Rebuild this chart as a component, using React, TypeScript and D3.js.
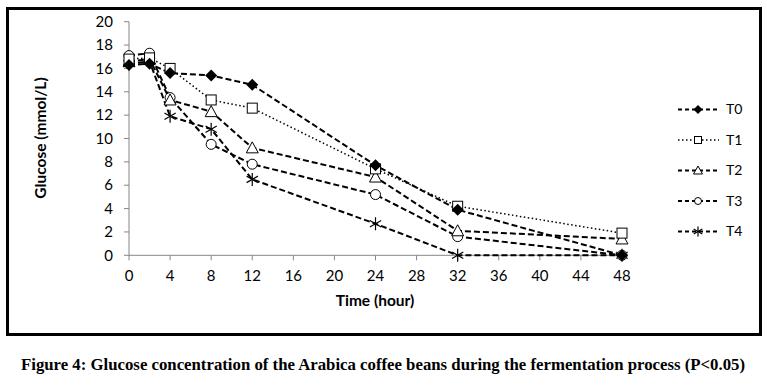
import React from 'react';
import * as d3 from 'd3';

const hours = [0, 2, 4, 8, 12, 24, 32, 48];
const seriesNames = ['T0', 'T1', 'T2', 'T3', 'T4'];
const t0 = [16.3, 16.4, 15.6, 15.4, 14.6, 7.7, 3.9, 0];
const t1 = [16.8, 16.9, 16.0, 13.3, 12.6, 7.4, 4.2, 1.9];
const t2 = [16.6, 16.8, 13.3, 12.3, 9.2, 6.7, 2.1, 1.4];
const t3 = [17.1, 17.3, 13.5, 9.5, 7.8, 5.2, 1.6, 0];
const t4 = [16.4, 16.6, 11.9, 10.8, 6.5, 2.7, 0, 0];
const xTicks = [0, 4, 8, 12, 16, 20, 24, 28, 32, 36, 40, 44, 48];
const yTicks = [0, 2, 4, 6, 8, 10, 12, 14, 16, 18, 20];

const allSeries = [t0, t1, t2, t3, t4];
const markerKinds = ['diamond', 'square', 'triangle', 'circle', 'asterisk'];

const W = 767;
const H = 387;
const plot = { left: 129, right: 622, top: 21.7, bottom: 255.3 };
const tickFont = 'Lato, "Open Sans", sans-serif';

function Marker({ kind, x, y, s }: { kind: string; x: number; y: number; s: number }) {
  const h = s / 2;
  if (kind === 'diamond') {
    return <path d={`M${x},${y - h - 1}L${x + h + 1},${y}L${x},${y + h + 1}L${x - h - 1},${y}Z`} fill="#000" />;
  }
  if (kind === 'square') {
    return <rect x={x - h} y={y - h} width={s} height={s} fill="#fff" stroke="#000" strokeWidth={1} />;
  }
  if (kind === 'triangle') {
    return <path d={`M${x},${y - h - 1}L${x + h + 1},${y + h}L${x - h - 1},${y + h}Z`} fill="#fff" stroke="#000" strokeWidth={1} />;
  }
  if (kind === 'circle') {
    return <circle cx={x} cy={y} r={h} fill="#fff" stroke="#000" strokeWidth={1} />;
  }
  const r = h + 1.5;
  const a = r * 0.866;
  return (
    <g stroke="#000" strokeWidth={1.2}>
      <line x1={x} y1={y - r} x2={x} y2={y + r} />
      <line x1={x - a} y1={y - r / 2} x2={x + a} y2={y + r / 2} />
      <line x1={x - a} y1={y + r / 2} x2={x + a} y2={y - r / 2} />
    </g>
  );
}

export default function App() {
  const x = d3.scaleLinear().domain([0, 48]).range([plot.left, plot.right]);
  const y = d3.scaleLinear().domain([0, 20]).range([plot.bottom, plot.top]);
  const line = d3
    .line<number>()
    .x((_, i) => x(hours[i]))
    .y(d => y(d));

  const legendY = d3.scalePoint<string>().domain(seriesNames).range([109.5, 231.5]);
  // later series first so T0 markers sit on top, as in the original
  const drawOrder = [4, 3, 2, 1, 0];

  return (
    <svg
      width={W}
      height={H}
      style={{ position: 'absolute', left: 0, top: 0, background: '#fff' }}
    >
      <rect x={0} y={0} width={W} height={H} fill="#fff" />
      <rect x={7.5} y={8.5} width={753} height={326} fill="none" stroke="#000" strokeWidth={3} />

      {/* axes */}
      <line x1={plot.left} y1={plot.top} x2={plot.left} y2={plot.bottom} stroke="#868686" />
      <line x1={plot.left} y1={plot.bottom} x2={plot.right} y2={plot.bottom} stroke="#868686" />
      {yTicks.map(t => (
        <g key={'y' + t}>
          <line x1={plot.left - 5} x2={plot.left} y1={y(t)} y2={y(t)} stroke="#868686" />
          <text x={113} y={y(t)} dy="0.35em" textAnchor="end" fontFamily={tickFont} fontSize={15}>
            {t}
          </text>
        </g>
      ))}
      {xTicks.map(t => (
        <g key={'x' + t}>
          <line x1={x(t)} x2={x(t)} y1={plot.bottom} y2={plot.bottom + 5} stroke="#868686" />
          <text x={x(t)} y={281} textAnchor="middle" fontFamily={tickFont} fontSize={15}>
            {t}
          </text>
        </g>
      ))}

      <text
        transform="translate(46,138) rotate(-90)"
        textAnchor="middle"
        fontFamily={tickFont}
        fontWeight="bold"
        fontSize={15.5}
      >
        Glucose (mmol/L)
      </text>
      <text x={375} y={306} textAnchor="middle" fontFamily={tickFont} fontWeight="bold" fontSize={15.5}>
        Time (hour)
      </text>

      {/* series */}
      {drawOrder.map(si => (
        <path
          key={'l' + si}
          d={line(allSeries[si]) || ''}
          fill="none"
          stroke="#000"
          strokeWidth={si === 1 ? 1.5 : 2}
          strokeDasharray={si === 1 ? '1.5 2.5' : '6 3'}
        />
      ))}
      {drawOrder.map(si =>
        allSeries[si].map((v, i) => (
          <Marker key={`m${si}-${i}`} kind={markerKinds[si]} x={x(hours[i])} y={y(v)} s={10} />
        ))
      )}

      {/* legend */}
      {seriesNames.map((name, si) => {
        const ly = legendY(name) || 0;
        return (
          <g key={'lg' + name}>
            <line
              x1={678}
              x2={719}
              y1={ly}
              y2={ly}
              stroke="#000"
              strokeWidth={si === 1 ? 1.5 : 2}
              strokeDasharray={si === 1 ? '1.5 2.5' : '4 3'}
            />
            <Marker kind={markerKinds[si]} x={698} y={ly} s={7} />
            <text x={726} y={ly} dy="0.35em" fontFamily={tickFont} fontSize={14}>
              {name}
            </text>
          </g>
        );
      })}

      <text
        x={383}
        y={370}
        textAnchor="middle"
        fontFamily='"Liberation Serif", "Times New Roman", serif'
        fontWeight="bold"
        fontSize={17}
        textLength={724}
        lengthAdjust="spacingAndGlyphs"
      >
        Figure 4: Glucose concentration of the Arabica coffee beans during the fermentation process (P&lt;0.05)
      </text>
    </svg>
  );
}
